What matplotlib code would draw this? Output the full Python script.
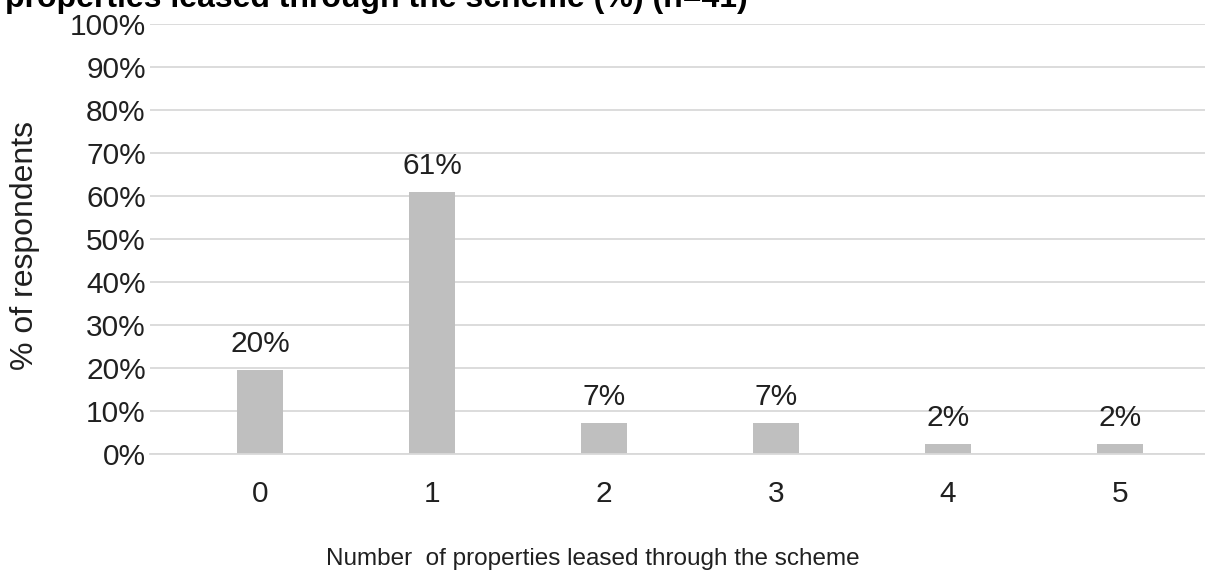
import numpy as np
import matplotlib.pyplot as plt

plt.rcParams['font.family'] = ['Liberation Sans', 'DejaVu Sans']

categories = ['0', '1', '2', '3', '4', '5']
values = [19.5, 61.0, 7.3, 7.3, 2.4, 2.4]
labels = ['20%', '61%', '7%', '7%', '2%', '2%']
yticks = np.arange(0, 101, 10)

W, H = 1205, 571
fs = 21.5
txt = '#202020'

fig = plt.figure(figsize=(W / 100, H / 100), dpi=100)
# plot area: gridlines run from x=150 to the right edge, 0% at y=454, 100% at y=24
ax = fig.add_axes([150 / W, (H - 454) / H, (W - 150) / W, 430 / H])

x = np.arange(len(categories))
ax.bar(x, values, width=0.27, color='#bfbfbf', zorder=2)
for xi, v, lab in zip(x, values, labels):
    ax.text(xi, v + 4.2, lab, ha='center', va='baseline', fontsize=fs, color=txt)

# category spacing ~172 px, first centre at x=260
ax.set_xlim(-110 / 172, len(categories) - 1 + 85 / 172)
ax.set_ylim(0, 100)
ax.set_yticks(yticks)
ax.set_yticklabels([f'{t}%' for t in yticks])
ax.set_xticks(x)
ax.set_xticklabels(categories)
ax.tick_params(axis='both', length=0, labelsize=fs, labelcolor=txt)
ax.tick_params(axis='y', pad=3)
ax.tick_params(axis='x', pad=19)
ax.grid(axis='y', color='#d9d9d9', linewidth=1.3, zorder=0)
for s in ['top', 'right', 'left']:
    ax.spines[s].set_visible(False)
ax.spines['bottom'].set_color('#d9d9d9')
ax.spines['bottom'].set_linewidth(1.3)

fig.text(25 / W, 1 - 245 / H, '% of respondents', rotation=90, fontsize=23,
         color=txt, ha='center', va='center')
fig.text(593 / W, 1 - 565 / H, 'Number  of properties leased through the scheme',
         fontsize=17.5, color=txt, ha='center', va='baseline')

fig.text(5 / W, 1 - 7 / H, 'properties leased through the scheme (%) (n=41)',
         fontsize=23, fontweight='bold', va='baseline', ha='left')

plt.savefig('out.png', dpi=100)
